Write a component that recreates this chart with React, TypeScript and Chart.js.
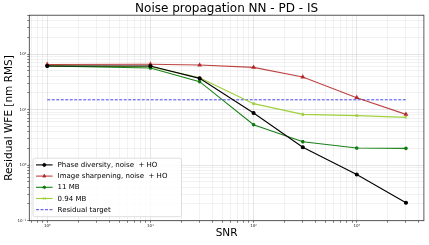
import React, { useEffect, useRef } from 'react';
import { Chart, registerables } from 'chart.js';
import { drawPoint } from 'chart.js/helpers';
Chart.register(...registerables);

const snr = [1, 10, 30, 100, 300, 1000, 3000];
const phaseDiversity = [60.8, 61, 36.5, 8.7, 2.1, 0.68, 0.21];
const imageSharpening = [65, 65.5, 63.4, 57.5, 38.6, 16.4, 8.2];
const mb11 = [61, 56, 31.8, 5.35, 2.64, 2.03, 2.0];
const mb094 = [61.5, 59, 37.5, 12.8, 8.2, 7.8, 7.25];
const targetX = [1, 3000];
const targetY = [15, 15];
const seriesLabels = [
  'Phase diversity, noise  + HO',
  'Image sharpening, noise  + HO',
  '11 MB',
  '0.94 MB',
  'Residual target',
];
const xMajorTicks = [1, 10, 100, 1000];
const xMajorLabels = ['10⁰', '10¹', '10²', '10³'];
const yMajorTicks = [0.1, 1, 10, 100];
const yMajorLabels = ['10⁻¹', '10⁰', '10¹', '10²'];
const titleText = 'Noise propagation NN - PD - IS';
const xTitle = 'SNR';
const yTitle = 'Residual WFE [nm RMS]';

const FONT = "'DejaVu Sans', sans-serif";

function logTicks(min: number, max: number) {
  const out: number[] = [];
  let dec = Math.pow(10, Math.floor(Math.log10(min)));
  while (dec <= max) {
    for (let s = 1; s <= 9; s++) {
      const v = +(s * dec).toPrecision(6);
      if (v >= min - 1e-12 && v <= max + 1e-12) out.push(v);
    }
    dec *= 10;
  }
  return out;
}

function labelFor(v: number, majors: number[], labels: string[]) {
  for (let i = 0; i < majors.length; i++) {
    if (Math.abs(v - majors[i]) < majors[i] * 1e-6) return labels[i];
  }
  return '';
}

function isMajor(v: number) {
  const l = Math.log10(v);
  return Math.abs(l - Math.round(l)) < 1e-6;
}

const legendPlugin = {
  id: 'mplLegend',
  afterDatasetsDraw(chart: any) {
    const { ctx, chartArea } = chart;
    const ds = chart.data.datasets;
    const rowH = 11.2;
    const boxL = chartArea.left + 3.7;
    const boxW = 148.5;
    const boxH = rowH * ds.length + 2.5;
    const boxB = chartArea.bottom - 4;
    const boxT = boxB - boxH;
    ctx.save();
    ctx.beginPath();
    const r = 2;
    ctx.moveTo(boxL + r, boxT);
    ctx.arcTo(boxL + boxW, boxT, boxL + boxW, boxB, r);
    ctx.arcTo(boxL + boxW, boxB, boxL, boxB, r);
    ctx.arcTo(boxL, boxB, boxL, boxT, r);
    ctx.arcTo(boxL, boxT, boxL + boxW, boxT, r);
    ctx.closePath();
    ctx.fillStyle = 'rgba(255,255,255,0.85)';
    ctx.fill();
    ctx.strokeStyle = '#d6d6d6';
    ctx.lineWidth = 0.8;
    ctx.stroke();
    ds.forEach((d: any, i: number) => {
      const y = boxT + 6.7 + i * rowH;
      const x0 = boxL + 3;
      const x1 = boxL + 19.6;
      ctx.beginPath();
      ctx.setLineDash(d.borderDash || []);
      ctx.strokeStyle = d.borderColor;
      ctx.lineWidth = d.borderWidth;
      ctx.moveTo(x0, y);
      ctx.lineTo(x1, y);
      ctx.stroke();
      ctx.setLineDash([]);
      if (d.pointRadius > 0) {
        ctx.fillStyle = d.pointBackgroundColor;
        ctx.strokeStyle = d.pointBorderColor;
        ctx.lineWidth = 1;
        drawPoint(ctx, { pointStyle: d.pointStyle, radius: d.pointRadius, rotation: 0, borderWidth: 1 }, (x0 + x1) / 2, y);
      }
      ctx.fillStyle = '#000';
      ctx.font = `7px ${FONT}`;
      ctx.textBaseline = 'middle';
      ctx.textAlign = 'left';
      ctx.fillText(d.label, boxL + 24.6, y + 0.3);
    });
    ctx.restore();
  },
  afterDraw(chart: any) {
    const { ctx, chartArea } = chart;
    ctx.save();
    ctx.strokeStyle = '#333';
    ctx.lineWidth = 0.8;
    ctx.strokeRect(chartArea.left, chartArea.top, chartArea.right - chartArea.left, chartArea.bottom - chartArea.top);
    ctx.restore();
  },
};

function pts(xs: number[], ys: number[]) {
  return xs.map((x, i) => ({ x, y: ys[i] }));
}

export default function App() {
  const ref = useRef<HTMLCanvasElement>(null);
  useEffect(() => {
    const X_MIN = 0.67, X_MAX = 4477, Y_MIN = 0.1, Y_MAX = 500;
    const gridColor = (c: any) =>
      c.tick && isMajor(c.tick.value) ? 'rgba(176,176,176,0.4)' : 'rgba(200,200,200,0.3)';
    const chart = new Chart(ref.current!, {
      type: 'line',
      data: {
        datasets: [
          {
            label: seriesLabels[0],
            data: pts(snr, phaseDiversity),
            borderColor: '#000',
            backgroundColor: '#000',
            pointBackgroundColor: '#000',
            pointBorderColor: '#000',
            borderWidth: 1.1,
            pointStyle: 'circle',
            pointRadius: 1.5,
          },
          {
            label: seriesLabels[1],
            data: pts(snr, imageSharpening),
            borderColor: 'rgba(178,34,34,0.85)',
            backgroundColor: 'rgba(178,34,34,0.85)',
            pointBackgroundColor: 'rgba(178,34,34,0.85)',
            pointBorderColor: 'rgba(178,34,34,0.85)',
            borderWidth: 1.1,
            pointStyle: 'triangle',
            pointRadius: 1.8,
          },
          {
            label: seriesLabels[2],
            data: pts(snr, mb11),
            borderColor: 'rgba(0,115,0,0.9)',
            backgroundColor: 'rgba(0,115,0,0.9)',
            pointBackgroundColor: 'rgba(0,115,0,0.9)',
            pointBorderColor: 'rgba(0,115,0,0.9)',
            borderWidth: 1.1,
            pointStyle: 'star',
            pointRadius: 1.8,
          },
          {
            label: seriesLabels[3],
            data: pts(snr, mb094),
            borderColor: 'rgba(154,205,50,0.95)',
            backgroundColor: 'rgba(154,205,50,0.95)',
            pointBackgroundColor: 'rgba(154,205,50,0.95)',
            pointBorderColor: 'rgba(154,205,50,0.95)',
            borderWidth: 1.1,
            pointStyle: 'crossRot',
            pointRadius: 1.6,
          },
          {
            label: seriesLabels[4],
            data: pts(targetX, targetY),
            borderColor: 'rgba(40,40,230,0.85)',
            backgroundColor: 'rgba(40,40,230,0.85)',
            pointBackgroundColor: 'rgba(40,40,230,0.85)',
            pointBorderColor: 'rgba(40,40,230,0.85)',
            borderWidth: 1,
            borderDash: [3, 1.5],
            pointRadius: 0,
          },
        ],
      },
      options: {
        animation: false,
        responsive: true,
        maintainAspectRatio: false,
        layout: { padding: { left: 0, right: 5, top: 0, bottom: 0 } },
        plugins: {
          legend: { display: false },
          tooltip: { enabled: false },
          title: {
            display: true,
            text: titleText,
            fullSize: false,
            color: '#000',
            font: { family: FONT, size: 12, weight: 'normal', lineHeight: 1.1 },
            padding: { top: 2, bottom: 0 },
          },
        },
        scales: {
          x: {
            type: 'logarithmic',
            min: X_MIN,
            max: X_MAX,
            afterBuildTicks: (s: any) => {
              s.ticks = logTicks(X_MIN, X_MAX).map((v) => ({ value: v, major: false }));
            },
            afterFit: (s: any) => {
              s.height = 24.3;
            },
            ticks: {
              autoSkip: false,
              maxRotation: 0,
              padding: 1,
              color: '#222',
              font: { family: FONT, size: 4 },
              callback: (v: any) => labelFor(Number(v), xMajorTicks, xMajorLabels),
            },
            grid: { color: gridColor, tickColor: '#555', tickLength: 2, lineWidth: 0.8 },
            border: { display: false },
            title: {
              display: true,
              text: xTitle,
              color: '#000',
              font: { family: FONT, size: 10.5 },
              padding: { top: 0, bottom: 5.7 },
            },
          },
          y: {
            type: 'logarithmic',
            min: Y_MIN,
            max: Y_MAX,
            afterBuildTicks: (s: any) => {
              s.ticks = logTicks(Y_MIN, Y_MAX).map((v) => ({ value: v, major: false }));
            },
            afterFit: (s: any) => {
              s.width = 29.3;
            },
            ticks: {
              autoSkip: false,
              padding: 1,
              color: '#222',
              font: { family: FONT, size: 4 },
              callback: (v: any) => labelFor(Number(v), yMajorTicks, yMajorLabels),
            },
            grid: { color: gridColor, tickColor: '#555', tickLength: 2, lineWidth: 0.8 },
            border: { display: false },
            title: {
              display: true,
              text: yTitle,
              color: '#000',
              font: { family: FONT, size: 10.5 },
              padding: { top: 2.7, bottom: 0 },
            },
          },
        },
      },
      plugins: [legendPlugin],
    } as any);
    return () => chart.destroy();
  }, []);
  return (
    <div style={{ position: 'absolute', left: 0, top: 0, width: 429, height: 245, background: '#fff' }}>
      <canvas ref={ref} />
    </div>
  );
}
